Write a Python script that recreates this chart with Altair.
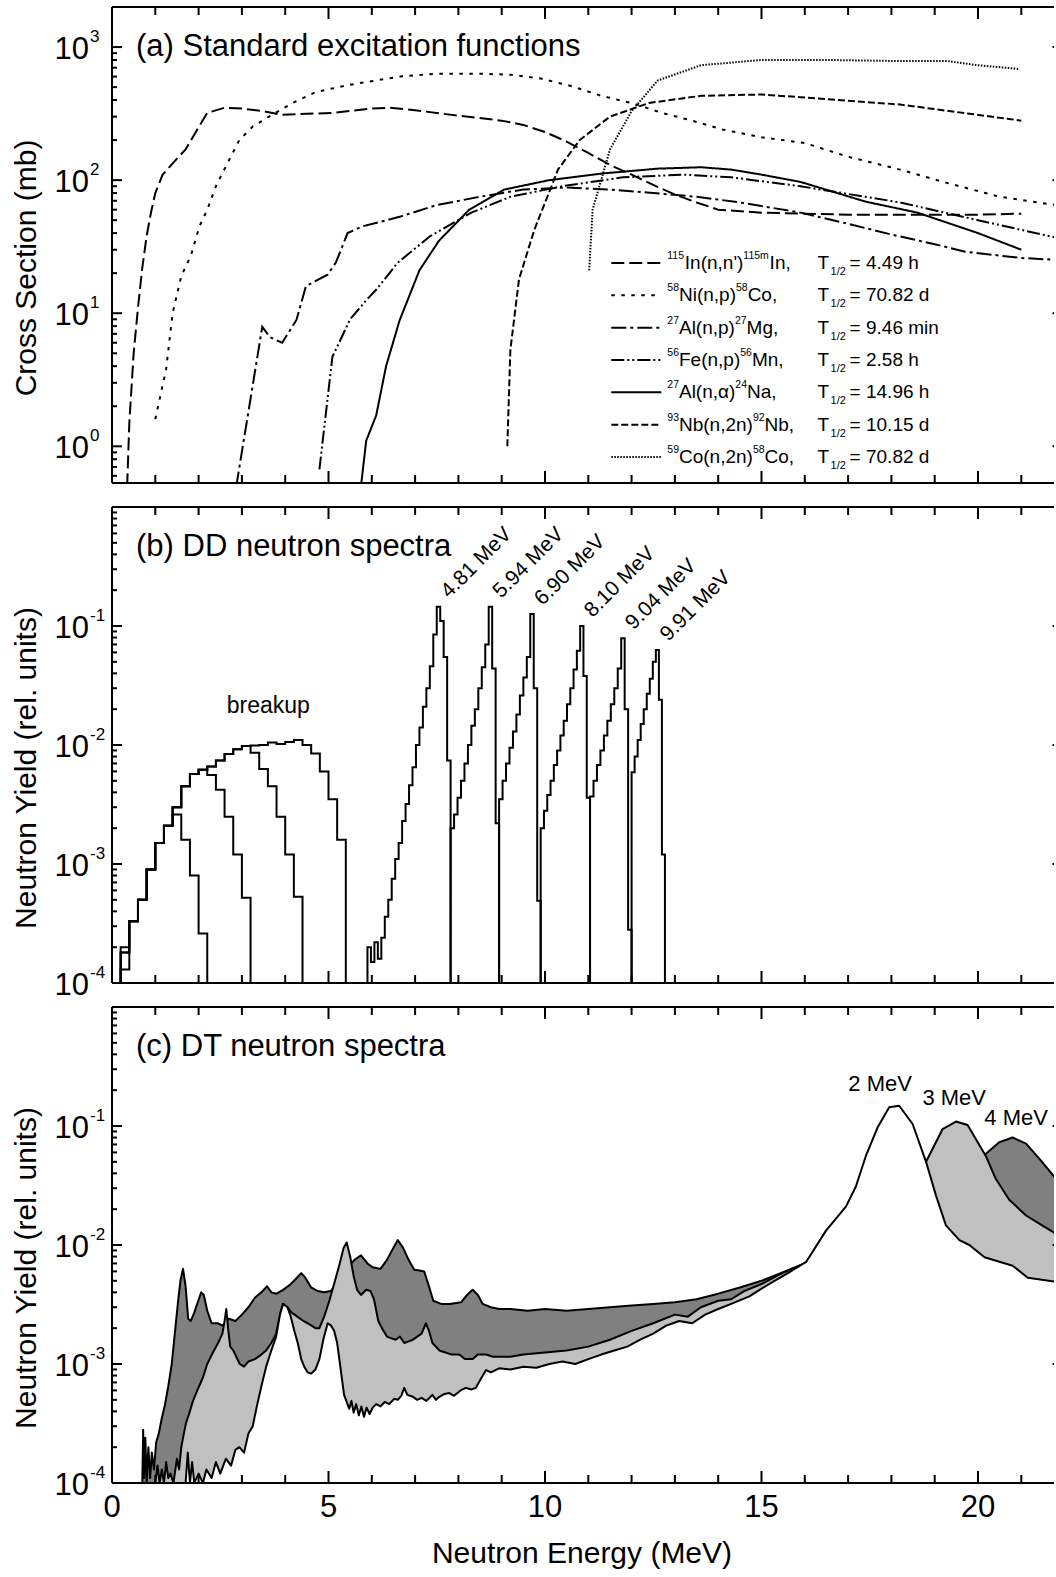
import altair as alt
import pandas as pd

FONT = "Liberation Sans"
W, H = 942, 476
PX_PER_MEV = 43.3
XMAX = W / PX_PER_MEV

# ---------------- axis tick positions / labels ----------------
X_MAJOR = [0, 5, 10, 15, 20]
X_LABELS = ["0", "5", "10", "15", "20"]
X_MINOR = [1, 2, 3, 4, 6, 7, 8, 9, 11, 12, 13, 14, 16, 17, 18, 19, 21]
YA_MAJOR = [1, 10, 100, 1000]
YA_EXP = ["0", "1", "2", "3"]
YA_MINOR = [0.6, 0.7, 0.8, 0.9] + [k * 10 ** p for p in (0, 1, 2) for k in range(2, 10)]
YB_MAJOR = [1e-4, 1e-3, 1e-2, 1e-1]
YB_EXP = ["-4", "-3", "-2", "-1"]
YB_MINOR = [k * 10.0 ** p for p in (-4, -3, -2, -1) for k in range(2, 10)]

# ---------------- panel (a): excitation functions (E MeV, sigma mb) ----------------
IN_PTS = [(0.35, 0.5), (0.40, 1.5), (0.50, 5), (0.60, 11), (0.70, 22), (0.80, 38), (0.90, 57),
          (1.00, 80), (1.17, 110), (1.50, 145), (1.70, 170), (2.00, 250), (2.20, 320), (2.60, 350),
          (3.00, 345), (3.50, 330), (3.90, 310), (4.50, 315), (5.10, 320), (6.00, 345), (6.40, 350),
          (7.00, 335), (8.00, 305), (9.00, 280), (9.50, 260), (10.0, 230), (10.5, 195), (11.0, 160),
          (11.5, 130), (12.0, 110), (12.5, 92), (13.0, 78), (13.5, 68), (14.0, 60), (15.0, 57),
          (16.0, 56), (17.0, 55), (18.0, 55), (19.0, 55), (20.0, 55), (21.0, 56)]
NI_PTS = [(1.0, 1.6), (1.25, 3.8), (1.4, 10), (1.6, 19), (1.82, 27), (2.02, 45), (2.2, 60), (2.4, 90),
          (2.63, 127), (2.94, 200), (3.25, 253), (3.7, 310), (4.17, 380), (4.71, 460), (5.48, 520),
          (6.64, 600), (7.5, 630), (8.5, 630), (9.2, 620), (9.9, 580), (10.6, 510), (11.3, 430),
          (12.0, 380), (12.7, 320), (13.4, 280), (14.1, 240), (15.0, 210), (16.0, 190), (17.0, 150),
          (18.2, 120), (19.3, 95), (20.5, 75), (21.8, 65)]
ALP_PTS = [(2.87, 0.5), (3.47, 7.9), (3.65, 6.6), (3.93, 6.0), (4.26, 8.9), (4.48, 16), (4.98, 19.5),
           (5.17, 24), (5.44, 40), (5.79, 45), (6.64, 53), (7.5, 65), (8.5, 75), (9.5, 85), (10.5, 88),
           (11.5, 85), (12.5, 80), (13.5, 75), (14.5, 68), (15.9, 57), (17.0, 47), (18.0, 39),
           (19.0, 33), (19.7, 29), (21.0, 26), (22.0, 25)]
FE_PTS = [(4.79, 0.67), (5.09, 4.7), (5.5, 9.0), (5.87, 12.5), (6.1, 15), (6.6, 24), (7.35, 38),
          (8.3, 57), (9.2, 75), (10.4, 90), (11.8, 105), (13.2, 110), (14.3, 105), (15.9, 90),
          (18.2, 68), (20.0, 50), (21.8, 37), (22.0, 36)]
ALA_PTS = [(5.75, 0.5), (5.87, 1.1), (6.1, 1.7), (6.33, 4.0), (6.64, 8.8), (7.1, 21), (7.55, 35),
           (8.25, 60), (9.06, 85), (10.1, 100), (11.3, 112), (12.6, 122), (13.6, 125), (14.3, 120),
           (15.0, 110), (15.9, 97), (17.4, 69), (18.6, 57), (20.0, 40), (21.0, 30)]
NB_PTS = [(9.13, 1.0), (9.2, 5.3), (9.4, 18), (9.75, 42), (10.3, 120), (10.8, 200), (11.5, 300),
          (12.4, 380), (13.6, 430), (15.0, 440), (15.9, 420), (18.2, 370), (21.0, 280)]
CO_PTS = [(11.02, 21), (11.1, 60), (11.5, 170), (12.0, 330), (12.6, 560), (13.6, 730), (15.0, 800),
          (16.5, 800), (18.2, 785), (19.3, 785), (19.95, 733), (20.96, 684)]

REACTIONS = ["In", "Ni", "Alp", "Fe", "Ala", "Nb", "Co"]
CURVES = [IN_PTS, NI_PTS, ALP_PTS, FE_PTS, ALA_PTS, NB_PTS, CO_PTS]
DASHES = [[13, 5], [3.5, 6.5], [15, 4, 3, 4], [13, 3, 2, 3, 2, 3], [1, 0], [7, 3], [1.5, 1.5]]

LEG_SUP1 = ["115", "58", "27", "56", "27", "93", "59"]
LEG_MID1 = ["In(n,n')", "Ni(n,p)", "Al(n,p)", "Fe(n,p)", "Al(n,\u03b1)", "Nb(n,2n)", "Co(n,2n)"]
LEG_SUP2 = ["115m", "58", "27", "56", "24", "92", "58"]
LEG_MID2 = ["In,", "Co,", "Mg,", "Mn,", "Na,", "Nb,", "Co,"]
LEG_HALF = ["4.49 h", "70.82 d", "9.46 min", "2.58 h", "14.96 h", "10.15 d", "70.82 d"]

# ---------------- panel (b): DD spectra histograms ----------------
BU_START, BU_WIDTH = 0.2, 0.2
BU_A = [2.0e-4, 3.3e-4, 5.0e-4, 9.0e-4, 1.5e-3, 2.1e-3, 2.6e-3, 1.6e-3, 8.0e-4, 2.6e-4]
BU_B = [1.3e-4, 3.3e-4, 5.0e-4, 9.0e-4, 1.5e-3, 2.1e-3, 3.0e-3, 4.5e-3, 5.7e-3, 6.2e-3, 5.6e-3,
        4.2e-3, 2.5e-3, 1.2e-3, 5.2e-4]
BU_C = [1.8e-4, 3.3e-4, 5.0e-4, 9.0e-4, 1.5e-3, 2.1e-3, 3.0e-3, 4.5e-3, 5.7e-3, 6.2e-3, 6.6e-3,
        7.4e-3, 8.4e-3, 9.2e-3, 9.8e-3, 8.6e-3, 6.3e-3, 4.5e-3, 2.5e-3, 1.2e-3, 5.3e-4]
BU_D = [1.8e-4, 3.3e-4, 5.0e-4, 9.0e-4, 1.5e-3, 2.1e-3, 3.0e-3, 4.5e-3, 5.7e-3, 6.2e-3, 6.6e-3,
        7.4e-3, 8.4e-3, 9.2e-3, 9.8e-3, 9.9e-3, 1.0e-2, 1.05e-2, 1.02e-2, 1.06e-2, 1.1e-2, 1.0e-2,
        8.5e-3, 6.0e-3, 3.5e-3, 1.6e-3]

PEAK_STARTS = [5.90, 7.82, 8.94, 9.90, 11.04, 12.00]
PEAK_WIDTHS = [0.08, 0.08, 0.08, 0.076, 0.08, 0.07]
PEAK_VALUES = [
    [2.0e-4, 1.5e-4, 2.2e-4, 1.6e-4, 2.4e-4, 3.6e-4, 5.0e-4, 7.5e-4, 1.1e-3, 1.5e-3, 2.3e-3, 3.2e-3,
     4.6e-3, 6.5e-3, 1.0e-2, 1.4e-2, 2.1e-2, 3.0e-2, 4.6e-2, 8.5e-2, 0.145, 0.11, 0.055, 0.0074],
    [2.0e-3, 2.6e-3, 3.6e-3, 5.0e-3, 7.0e-3, 1.0e-2, 1.45e-2, 2.0e-2, 3.0e-2, 4.5e-2, 0.07, 0.145,
     0.044, 2.2e-3],
    [3.5e-3, 5.0e-3, 7.0e-3, 9.5e-3, 1.3e-2, 1.8e-2, 2.6e-2, 3.7e-2, 5.5e-2, 0.126, 0.03, 4.9e-4],
    [2.0e-3, 2.8e-3, 3.8e-3, 5.0e-3, 6.8e-3, 9.0e-3, 1.2e-2, 1.6e-2, 2.2e-2, 3.0e-2, 4.3e-2, 0.062,
     0.10, 0.038, 3.6e-3],
    [3.7e-3, 5.0e-3, 6.8e-3, 9.0e-3, 1.2e-2, 1.6e-2, 2.2e-2, 3.0e-2, 4.4e-2, 0.079, 0.02, 2.8e-4],
    [5.9e-3, 8.0e-3, 1.1e-2, 1.5e-2, 2.0e-2, 2.7e-2, 3.6e-2, 0.05, 0.063, 0.024, 1.2e-3],
]
PEAK_LABELS = ["4.81 MeV", "5.94 MeV", "6.90 MeV", "8.10 MeV", "9.04 MeV", "9.91 MeV"]
PEAK_LABEL_E = [7.54, 8.74, 9.70, 10.85, 11.80, 12.60]
PEAK_LABEL_Y = [0.145, 0.145, 0.126, 0.10, 0.079, 0.063]
BREAKUP_E, BREAKUP_Y = [3.61], [0.0213]

# ---------------- panel (c): DT spectra ----------------
S4_PTS = [(0.70, 1.0e-4), (0.72, 2.8e-4), (0.74, 1.1e-4), (0.77, 2.4e-4), (0.80, 1.0e-4), (0.84, 2.0e-4),
          (0.88, 1.1e-4), (0.92, 1.8e-4), (0.97, 1.3e-4), (1.02, 2.2e-4), (1.08, 2.6e-4), (1.15, 3.5e-4),
          (1.22, 4.5e-4), (1.30, 6.5e-4), (1.38, 1.0e-3), (1.45, 1.8e-3), (1.52, 3.2e-3), (1.58, 5.0e-3),
          (1.64, 6.3e-3), (1.70, 4.5e-3), (1.76, 2.4e-3), (1.82, 2.3e-3), (1.90, 2.7e-3), (1.98, 3.3e-3),
          (2.06, 4.0e-3), (2.12, 3.8e-3), (2.20, 2.8e-3), (2.30, 2.2e-3), (2.45, 2.2e-3), (2.55, 2.1e-3),
          (2.70, 2.4e-3), (2.85, 2.3e-3), (3.00, 2.6e-3), (3.15, 3.0e-3), (3.30, 3.6e-3), (3.45, 4.0e-3),
          (3.58, 4.5e-3), (3.68, 4.0e-3), (3.80, 3.9e-3), (3.95, 4.2e-3), (4.10, 4.6e-3), (4.25, 5.2e-3),
          (4.37, 5.8e-3), (4.45, 5.4e-3), (4.60, 4.4e-3), (4.75, 4.1e-3), (4.90, 4.0e-3), (5.05, 4.1e-3),
          (5.25, 5.0e-3), (5.45, 6.5e-3), (5.60, 7.5e-3), (5.75, 8.2e-3), (5.90, 7.0e-3), (6.02, 6.5e-3),
          (6.20, 6.3e-3), (6.35, 7.5e-3), (6.50, 9.5e-3), (6.60, 1.1e-2), (6.72, 9.5e-3), (6.85, 7.5e-3),
          (6.98, 6.2e-3), (7.10, 6.1e-3), (7.21, 6.0e-3), (7.32, 4.5e-3), (7.42, 3.4e-3), (7.60, 3.2e-3),
          (7.80, 3.2e-3), (8.06, 3.3e-3), (8.20, 3.8e-3), (8.33, 4.2e-3), (8.45, 3.8e-3), (8.56, 3.2e-3),
          (8.75, 3.0e-3), (8.94, 2.9e-3), (9.20, 2.9e-3), (9.60, 2.8e-3), (10.0, 2.9e-3), (10.5, 2.8e-3),
          (11.0, 2.9e-3), (11.5, 3.0e-3), (12.0, 3.1e-3), (12.5, 3.2e-3), (13.0, 3.3e-3), (13.5, 3.5e-3),
          (14.0, 3.9e-3), (14.5, 4.4e-3), (15.0, 5.0e-3), (15.5, 5.9e-3), (16.0, 7.0e-3), (16.5, 8.0e-3),
          (17.0, 9.5e-3), (17.5, 1.2e-2), (18.0, 1.5e-2), (18.5, 2.0e-2), (19.0, 2.6e-2), (19.5, 3.5e-2),
          (19.9, 4.5e-2), (20.15, 5.7e-2), (20.49, 7.3e-2), (20.8, 8.0e-2), (21.11, 7.1e-2),
          (21.42, 5.3e-2), (21.8, 3.6e-2), (22.0, 3.0e-2)]
S3_PTS = [(1.00, 1.0e-4), (1.05, 1.4e-4), (1.10, 1.0e-4), (1.15, 1.3e-4), (1.20, 1.0e-4), (1.25, 1.5e-4),
          (1.30, 1.1e-4), (1.35, 1.2e-4), (1.42, 1.0e-4), (1.45, 1.2e-4), (1.50, 1.6e-4), (1.55, 1.3e-4),
          (1.60, 2.0e-4), (1.66, 2.6e-4), (1.71, 3.2e-4), (1.78, 3.8e-4), (1.87, 4.9e-4), (1.97, 6.0e-4),
          (2.10, 7.7e-4), (2.20, 1.0e-3), (2.33, 1.25e-3), (2.45, 1.5e-3), (2.55, 1.8e-3), (2.60, 2.3e-3),
          (2.64, 2.9e-3), (2.68, 2.0e-3), (2.73, 1.4e-3), (2.80, 1.3e-3), (2.87, 1.15e-3), (2.95, 1.0e-3),
          (3.05, 9.5e-4), (3.15, 1.05e-3), (3.30, 1.1e-3), (3.45, 1.2e-3), (3.56, 1.3e-3), (3.68, 1.5e-3),
          (3.79, 1.8e-3), (3.88, 2.6e-3), (3.95, 3.2e-3), (4.05, 3.0e-3), (4.15, 2.7e-3), (4.28, 2.5e-3),
          (4.42, 2.3e-3), (4.56, 2.15e-3), (4.70, 2.0e-3), (4.79, 2.0e-3), (4.90, 2.5e-3), (5.02, 3.4e-3),
          (5.15, 5.0e-3), (5.25, 6.8e-3), (5.35, 9.5e-3), (5.42, 1.05e-2), (5.50, 8.0e-3), (5.58, 5.5e-3),
          (5.66, 4.2e-3), (5.75, 3.8e-3), (5.87, 4.2e-3), (5.97, 4.1e-3), (6.05, 3.5e-3), (6.15, 2.3e-3),
          (6.25, 1.95e-3), (6.35, 1.7e-3), (6.44, 1.65e-3), (6.55, 1.6e-3), (6.65, 1.7e-3), (6.75, 1.5e-3),
          (6.85, 1.55e-3), (6.95, 1.6e-3), (7.05, 1.7e-3), (7.15, 1.8e-3), (7.25, 2.2e-3), (7.32, 1.9e-3),
          (7.40, 1.5e-3), (7.56, 1.3e-3), (7.70, 1.25e-3), (7.85, 1.2e-3), (8.02, 1.2e-3), (8.15, 1.1e-3),
          (8.33, 1.1e-3), (8.45, 1.2e-3), (8.64, 1.2e-3), (8.80, 1.15e-3), (8.94, 1.15e-3), (9.2, 1.15e-3),
          (9.5, 1.2e-3), (10.0, 1.25e-3), (10.5, 1.3e-3), (11.0, 1.4e-3), (11.5, 1.6e-3), (12.0, 1.9e-3),
          (12.5, 2.2e-3), (13.0, 2.6e-3), (13.3, 2.5e-3), (13.6, 3.0e-3), (14.0, 3.4e-3), (14.3, 3.5e-3),
          (14.6, 4.1e-3), (15.0, 4.7e-3), (15.4, 5.6e-3), (15.7, 6.3e-3), (16.0, 7.0e-3), (16.5, 9.0e-3),
          (17.0, 1.3e-2), (17.5, 2.0e-2), (18.0, 2.8e-2), (18.4, 3.8e-2), (18.8, 5.0e-2), (19.18, 9.4e-2),
          (19.49, 0.109), (19.76, 0.102), (20.18, 5.6e-2), (20.41, 3.6e-2), (20.72, 2.4e-2),
          (21.11, 1.77e-2), (21.5, 1.45e-2), (21.8, 1.24e-2), (22.0, 1.15e-2)]
S2_PTS = [(1.70, 1.0e-4), (1.75, 1.8e-4), (1.80, 1.0e-4), (1.85, 1.5e-4), (1.90, 1.0e-4), (2.00, 1.2e-4),
          (2.10, 1.0e-4), (2.18, 1.3e-4), (2.30, 1.1e-4), (2.40, 1.5e-4), (2.50, 1.2e-4), (2.63, 1.6e-4),
          (2.75, 1.4e-4), (2.85, 1.9e-4), (2.94, 2.0e-4), (3.05, 1.8e-4), (3.15, 2.6e-4), (3.25, 3.0e-4),
          (3.35, 4.5e-4), (3.45, 6.5e-4), (3.56, 9.5e-4), (3.68, 1.3e-3), (3.79, 1.7e-3), (3.88, 2.6e-3),
          (3.95, 3.2e-3), (4.05, 3.0e-3), (4.13, 2.5e-3), (4.21, 1.9e-3), (4.29, 1.5e-3), (4.37, 1.1e-3),
          (4.44, 9.5e-4), (4.52, 8.5e-4), (4.60, 8.3e-4), (4.70, 9.0e-4), (4.79, 1.1e-3), (4.88, 1.6e-3),
          (4.98, 2.2e-3), (5.06, 2.1e-3), (5.13, 1.9e-3), (5.20, 1.5e-3), (5.25, 1.1e-3), (5.31, 7.5e-4),
          (5.36, 5.5e-4), (5.42, 4.8e-4), (5.48, 4.2e-4), (5.53, 4.9e-4), (5.58, 3.9e-4), (5.64, 4.6e-4),
          (5.70, 3.7e-4), (5.76, 4.4e-4), (5.82, 3.6e-4), (5.88, 4.3e-4), (5.95, 3.8e-4), (6.02, 4.3e-4),
          (6.10, 4.6e-4), (6.20, 4.4e-4), (6.30, 4.8e-4), (6.40, 4.6e-4), (6.52, 5.1e-4), (6.60, 5.0e-4),
          (6.68, 5.4e-4), (6.75, 6.3e-4), (6.82, 5.5e-4), (6.95, 5.3e-4), (7.05, 5.0e-4), (7.15, 5.2e-4),
          (7.26, 4.9e-4), (7.40, 5.5e-4), (7.48, 5.0e-4), (7.56, 5.3e-4), (7.68, 5.6e-4), (7.79, 5.7e-4),
          (7.90, 5.4e-4), (8.05, 6.0e-4), (8.17, 6.3e-4), (8.30, 6.1e-4), (8.40, 6.3e-4), (8.52, 7.5e-4),
          (8.64, 8.9e-4), (8.75, 8.5e-4), (8.94, 9.2e-4), (9.2, 9.0e-4), (9.5, 9.5e-4), (9.8, 9.3e-4),
          (10.1, 1.0e-3), (10.4, 1.05e-3), (10.7, 1.0e-3), (11.0, 1.1e-3), (11.3, 1.2e-3), (11.6, 1.3e-3),
          (11.9, 1.4e-3), (12.2, 1.6e-3), (12.5, 1.8e-3), (12.8, 2.1e-3), (13.1, 2.3e-3), (13.4, 2.2e-3),
          (13.7, 2.6e-3), (14.0, 2.9e-3), (14.3, 3.2e-3), (14.72, 3.7e-3), (15.0, 4.3e-3), (15.3, 5.0e-3),
          (15.64, 5.9e-3), (16.03, 7.2e-3), (16.49, 1.32e-2), (16.95, 2.1e-2), (17.18, 3.1e-2),
          (17.41, 5.6e-2), (17.68, 9.7e-2), (17.95, 0.144), (18.18, 0.148), (18.49, 0.104), (18.80, 5.0e-2),
          (19.03, 2.6e-2), (19.26, 1.46e-2), (19.57, 1.1e-2), (19.80, 1.0e-2), (20.15, 7.9e-3),
          (20.80, 6.7e-3), (21.15, 5.3e-3), (21.80, 4.9e-3), (22.0, 4.8e-3)]
DT_LABELS = ["2 MeV", "3 MeV", "4 MeV"]
DT_LABEL_E = [17.74, 19.45, 20.88]
DT_LABEL_Y = [0.225, 0.172, 0.117]

# ---------------- helpers ----------------
xsc = alt.Scale(domain=[0, XMAX], nice=False, zero=False)


def ylog(lo, hi):
    return alt.Scale(type="log", domain=[lo, hi], nice=False)


def one():
    return alt.Chart(pd.DataFrame({"k": [0]}))


def frame_layers(ysc, ymaj, ymin, lab_vals, lab_exps, title_text, ytitle):
    L = []

    def ylayer(vals, x1, x2):
        return alt.Chart(pd.DataFrame({"v": vals})).mark_rule(color="black", strokeWidth=2).encode(
            y=alt.Y("v:Q", scale=ysc, axis=None), x=alt.value(x1), x2=alt.value(x2))

    def xlayer(vals, y1, y2):
        return alt.Chart(pd.DataFrame({"v": vals})).mark_rule(color="black", strokeWidth=2).encode(
            x=alt.X("v:Q", scale=xsc, axis=None), y=alt.value(y1), y2=alt.value(y2))

    L += [ylayer(ymaj, 0, 10), ylayer(ymin, 0, 5), ylayer(ymaj, W - 1.5, W),
          xlayer(X_MAJOR, 0, 12), xlayer(X_MINOR, 0, 8), xlayer(X_MAJOR, H - 12, H),
          xlayer(X_MINOR, H - 8, H)]
    # frame: left, top, bottom (the right edge lies just outside the picture)
    L.append(one().mark_rule(color="black", strokeWidth=2).encode(
        x=alt.value(0), y=alt.value(0), y2=alt.value(H)))
    L.append(one().mark_rule(color="black", strokeWidth=2).encode(
        y=alt.value(0), x=alt.value(0), x2=alt.value(W)))
    L.append(one().mark_rule(color="black", strokeWidth=2).encode(
        y=alt.value(H), x=alt.value(0), x2=alt.value(W)))
    lab = pd.DataFrame({"v": lab_vals, "e": lab_exps})
    L.append(alt.Chart(lab).mark_text(text="10", font=FONT, fontSize=31, align="right",
                                      baseline="middle", dy=3, color="black").encode(
        y=alt.Y("v:Q", scale=ysc, axis=None), x=alt.value(-23)))
    L.append(alt.Chart(lab).mark_text(font=FONT, fontSize=17, align="left", baseline="middle",
                                      dy=-10, color="black").encode(
        y=alt.Y("v:Q", scale=ysc, axis=None), x=alt.value(-22), text="e:N"))
    L.append(alt.Chart(pd.DataFrame({"t": [title_text]})).mark_text(
        font=FONT, fontSize=31, align="left", baseline="middle", color="black").encode(
        x=alt.value(24), y=alt.value(40), text="t:N"))
    L.append(alt.Chart(pd.DataFrame({"t": [ytitle]})).mark_text(
        font=FONT, fontSize=30, angle=270, align="center", baseline="middle", color="black").encode(
        x=alt.value(-85), y=alt.value(261), text="t:N"))
    L.append(one().mark_rule(opacity=0).encode(
        x=alt.value(-108), y=alt.value(0), y2=alt.value(10)))
    return L


# ---------------- panel (a) ----------------
ysa = ylog(0.53, 2000)
rows = []
for r, pts in zip(REACTIONS, CURVES):
    for i, (e, s) in enumerate(pts):
        rows.append({"r": r, "i": i, "E": e, "s": s})
df_a = pd.DataFrame(rows)
dash_scale = alt.Scale(domain=REACTIONS, range=DASHES)

curves = alt.Chart(df_a).mark_line(clip=True, color="black", strokeWidth=2).encode(
    x=alt.X("E:Q", scale=xsc, axis=None),
    y=alt.Y("s:Q", scale=ysa, axis=None),
    detail="r:N", order="i:Q",
    strokeDash=alt.StrokeDash("r:N", scale=dash_scale, legend=None))

CW = {" ": .278, "'": .191, "(": .333, ")": .333, ",": .278, "-": .333, ".": .278, "/": .278,
      "=": .584, "A": .667, "C": .722, "F": .611, "I": .278, "M": .833, "N": .722, "T": .611,
      "a": .556, "b": .556, "d": .556, "e": .556, "g": .556, "h": .556, "i": .222, "l": .222,
      "m": .833, "n": .556, "o": .556, "p": .556, "\u03b1": .578}


def tw(s, size):
    return size * sum(CW.get(ch, 0.556) for ch in s)


F_MAIN, F_SUP = 19, 10.5
LEG_X0, LEG_Y0, LEG_DY, T_X = 555.3, 256.0, 32.33, 705.6
leg_line, leg_main, leg_sup, leg_sub = [], [], [], []
for i in range(7):
    y = LEG_Y0 + i * LEG_DY
    leg_line.append({"r": REACTIONS[i], "y": y})
    x = LEG_X0
    leg_sup.append({"x": x, "y": y - 7, "t": LEG_SUP1[i]}); x += tw(LEG_SUP1[i], F_SUP)
    leg_main.append({"x": x, "y": y, "t": LEG_MID1[i]}); x += tw(LEG_MID1[i], F_MAIN)
    leg_sup.append({"x": x, "y": y - 7, "t": LEG_SUP2[i]}); x += tw(LEG_SUP2[i], F_SUP)
    leg_main.append({"x": x, "y": y, "t": LEG_MID2[i]})
    leg_main.append({"x": T_X, "y": y, "t": "T"})
    leg_sub.append({"x": T_X + 13, "y": y + 9, "t": "1/2"})
    leg_main.append({"x": T_X + 32, "y": y, "t": "= " + LEG_HALF[i]})

leg_rule = alt.Chart(pd.DataFrame(leg_line)).mark_rule(color="black", strokeWidth=2).encode(
    y=alt.Y("y:Q", scale=None, axis=None), x=alt.value(499.3), x2=alt.value(549.3),
    strokeDash=alt.StrokeDash("r:N", scale=dash_scale, legend=None))


def leg_text(rows_, size):
    return alt.Chart(pd.DataFrame(rows_)).mark_text(
        font=FONT, fontSize=size, align="left", baseline="middle", color="black").encode(
        x=alt.X("x:Q", scale=None, axis=None), y=alt.Y("y:Q", scale=None, axis=None), text="t:N")


panel_a = alt.layer(
    curves, leg_rule, leg_text(leg_main, F_MAIN), leg_text(leg_sup, F_SUP), leg_text(leg_sub, 11),
    *frame_layers(ysa, YA_MAJOR, YA_MINOR, YA_MAJOR, YA_EXP, "(a) Standard excitation functions",
                  "Cross Section (mb)")
).properties(width=W, height=H)

# ---------------- panel (b) ----------------
ysb = ylog(1e-4, 1.0)


def hist_rows(name, start, width, vals):
    out = [{"h": name, "i": 0, "E": start, "v": 1e-6}]
    for k, v in enumerate(vals):
        out.append({"h": name, "i": k + 1, "E": start + k * width, "v": v})
    out.append({"h": name, "i": len(vals) + 1, "E": start + len(vals) * width, "v": 1e-6})
    return out


hrows = []
for nm, vals in zip(["A", "B", "C", "D"], [BU_A, BU_B, BU_C, BU_D]):
    hrows += hist_rows(nm, BU_START, BU_WIDTH, vals)
for k, (st, wd, vals) in enumerate(zip(PEAK_STARTS, PEAK_WIDTHS, PEAK_VALUES)):
    hrows += hist_rows("P%d" % k, st, wd, vals)
df_b = pd.DataFrame(hrows)

hist = alt.Chart(df_b).mark_line(interpolate="step-after", clip=True, color="black",
                                 strokeWidth=2).encode(
    x=alt.X("E:Q", scale=xsc, axis=None),
    y=alt.Y("v:Q", scale=ysb, axis=None),
    detail="h:N", order="i:Q")

peak_lab = alt.Chart(pd.DataFrame({"E": PEAK_LABEL_E, "v": PEAK_LABEL_Y, "t": PEAK_LABELS})).mark_text(
    font=FONT, fontSize=21, angle=315, align="left", baseline="alphabetic", dx=13, dy=2,
    color="black").encode(
    x=alt.X("E:Q", scale=xsc, axis=None), y=alt.Y("v:Q", scale=ysb, axis=None), text="t:N")
bu_lab = alt.Chart(pd.DataFrame({"E": BREAKUP_E, "v": BREAKUP_Y, "t": ["breakup"]})).mark_text(
    font=FONT, fontSize=23, align="center", baseline="middle", color="black").encode(
    x=alt.X("E:Q", scale=xsc, axis=None), y=alt.Y("v:Q", scale=ysb, axis=None), text="t:N")

panel_b = alt.layer(
    hist, peak_lab, bu_lab,
    *frame_layers(ysb, YB_MAJOR, YB_MINOR, YB_MAJOR, YB_EXP, "(b) DD neutron spectra",
                  "Neutron Yield (rel. units)")
).properties(width=W, height=H)

# ---------------- panel (c) ----------------
ysc_c = ylog(1e-4, 1.0)


def spec_df(pts):
    return pd.DataFrame([{"E": e, "v": v, "base": 1e-4} for (e, v) in pts])


def spec_area(pts, fill):
    return alt.Chart(spec_df(pts)).mark_area(clip=True, fill=fill, stroke="black", strokeWidth=2,
                                             strokeJoin="round").encode(
        x=alt.X("E:Q", scale=xsc, axis=None),
        y=alt.Y("v:Q", scale=ysc_c, axis=None),
        y2="base:Q")


dt_lab = alt.Chart(pd.DataFrame({"E": DT_LABEL_E, "v": DT_LABEL_Y, "t": DT_LABELS})).mark_text(
    font=FONT, fontSize=22, align="center", baseline="middle", color="black").encode(
    x=alt.X("E:Q", scale=xsc, axis=None), y=alt.Y("v:Q", scale=ysc_c, axis=None), text="t:N")

x_lab = alt.Chart(pd.DataFrame({"v": X_MAJOR, "t": X_LABELS})).mark_text(
    font=FONT, fontSize=31, align="center", baseline="middle", color="black").encode(
    x=alt.X("v:Q", scale=xsc, axis=None), y=alt.value(H + 25), text="t:N")
x_title = alt.Chart(pd.DataFrame({"t": ["Neutron Energy (MeV)"]})).mark_text(
    font=FONT, fontSize=30, align="center", baseline="middle", color="black").encode(
    x=alt.value(470), y=alt.value(H + 71), text="t:N")

panel_c = alt.layer(
    spec_area(S4_PTS, "#808080"), spec_area(S3_PTS, "#c0c0c0"), spec_area(S2_PTS, "white"),
    dt_lab, x_lab, x_title,
    *frame_layers(ysc_c, YB_MAJOR, YB_MINOR, YB_MAJOR, YB_EXP, "(c) DT neutron spectra",
                  "Neutron Yield (rel. units)")
).properties(width=W, height=H)

chart = alt.vconcat(panel_a, panel_b, panel_c, spacing=24, bounds="flush").properties(
    padding={"left": 4, "top": 6, "right": 0, "bottom": 4}, background="white"
).configure(font=FONT).configure_view(strokeWidth=0, stroke=None)

chart.save("out.html", embed_options={"renderer": "svg", "actions": False})
